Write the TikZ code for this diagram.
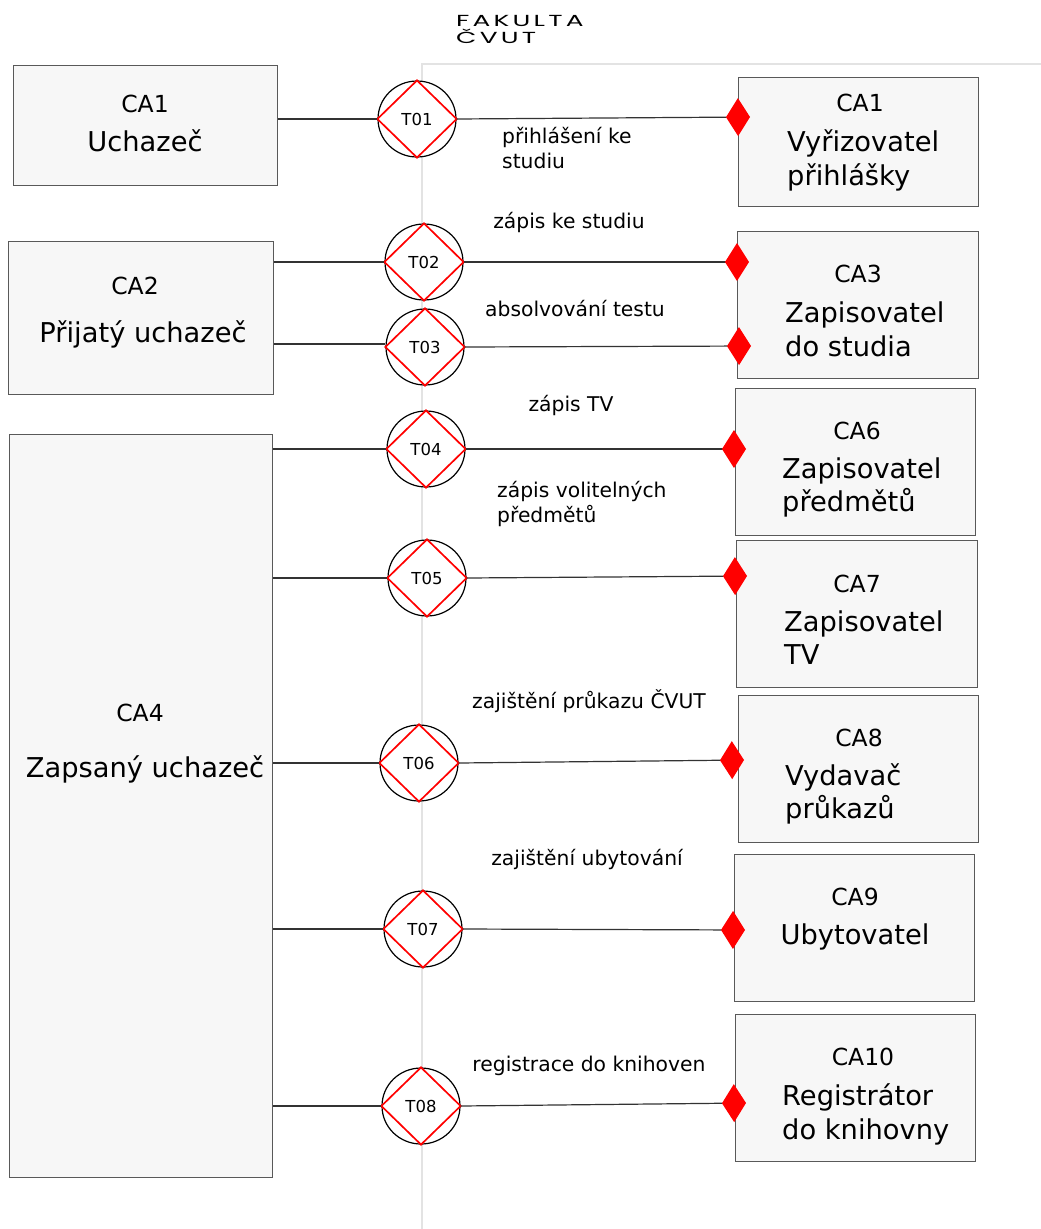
\documentclass[tikz,border=0pt]{standalone}
\usepackage{fontspec}
\setmainfont{DejaVu Sans}
\newfontfamily\titlefont[FakeStretch=1.65, LetterSpace=20]{Poppins}
\usetikzlibrary{shapes.geometric,arrows.meta,calc}

\begin{document}
\begin{tikzpicture}[x=1pt,y=-1pt,
  actor/.style={draw=black!65, fill=black!3, line width=1.3pt, inner sep=0pt, anchor=north west},
  trans/.style={ellipse, draw=black, fill=white, line width=1.2pt, minimum width=78pt,
                minimum height=76pt, inner sep=0pt, font=\fontsize{16.5}{18}\selectfont},
  txt/.style={inner sep=0pt, text height=0.73em, text depth=0pt, yshift=-5pt},
  code/.style={txt, font=\fontsize{23.5}{26}\selectfont},
  role/.style={txt, font=\fontsize{27.3}{32}\selectfont},
  label/.style={txt, font=\fontsize{20.3}{22}\selectfont},
  link/.style={draw=black!80, line width=1.2pt},
  rel/.style={link, -{Diamond[length=24pt,width=38pt,red]}},
  lane/.style={draw=black!11, line width=2.6pt},
  cross/.style={draw=red, line width=1.7pt, line join=miter}
]
\useasboundingbox (0,0) rectangle (1041,1229);

% organisation boundary
\draw[lane] (422,1229) -- (422,64) -- (1041,64);
\node[anchor=base west, align=left, inner sep=0pt,
      font=\titlefont\fontsize{16}{17}\selectfont] (fak) at (456,43) {FAKULTA\\ČVUT};

% environment actors
\node[actor, minimum width=264pt, minimum height=120pt] (a1) at (13,65) {};
\node[actor, minimum width=265pt, minimum height=153pt] (a2) at (8,241) {};
\node[actor, minimum width=263pt, minimum height=743pt] (a4) at (9,434) {};

\node[code] at (145,104) {CA1};
\node[role] at (145,143) {Uchazeč};
\node[code] at (135,286) {CA2};
\node[role] at (143,334) {Přijatý uchazeč};
\node[code] at (140,713) {CA4};
\node[role] at (145,769) {Zapsaný uchazeč};

% faculty actors
\node[actor, minimum width=240pt, minimum height=129pt] (r1) at (738,77) {};
\node[actor, minimum width=241pt, minimum height=147pt] (r3) at (737,231) {};
\node[actor, minimum width=240pt, minimum height=147pt] (r6) at (735,388) {};
\node[actor, minimum width=241pt, minimum height=147pt] (r7) at (736,540) {};
\node[actor, minimum width=240pt, minimum height=147pt] (r8) at (738,695) {};
\node[actor, minimum width=240pt, minimum height=147pt] (r9) at (734,854) {};
\node[actor, minimum width=240pt, minimum height=147pt] (r10) at (735,1014) {};

\node[code] at (860,103) {CA1};
\node[role, anchor=west] at (787,143) {Vyřizovatel};
\node[role, anchor=west] at (787,177) {přihlášky};
\node[code] at (858,274) {CA3};
\node[role, anchor=west] at (785,314) {Zapisovatel};
\node[role, anchor=west] at (785,348) {do studia};
\node[code] at (857,431) {CA6};
\node[role, anchor=west] at (782,470) {Zapisovatel};
\node[role, anchor=west] at (782,503) {předmětů};
\node[code] at (857,584) {CA7};
\node[role, anchor=west] at (784,623) {Zapisovatel};
\node[role, anchor=west] at (784,656) {TV};
\node[code] at (859,738) {CA8};
\node[role, anchor=west] at (785,777) {Vydavač};
\node[role, anchor=west] at (785,810) {průkazů};
\node[code] at (855,897) {CA9};
\node[role] at (855,936) {Ubytovatel};
\node[code] at (863,1057) {CA10};
\node[role, anchor=west] at (782,1097) {Registrátor};
\node[role, anchor=west] at (782,1131) {do knihovny};

% transactions
\foreach \n/\x/\y in {1/417/119, 2/424/262, 3/425/347, 4/426/449, 5/427/578, 6/419/763, 7/423/929, 8/421/1106}{
  \node[trans] (t\n) at (\x,\y) {T0\n};
  \draw[cross] (t\n.north) -- (t\n.east) -- (t\n.south) -- (t\n.west) -- cycle;
}

% initiator links
\draw[link] (a1.east |- t1.west) -- (t1.west);
\draw[link] (a2.east |- t2.west) -- (t2.west);
\draw[link] ($(a2.east |- t3.west)+(0,-3)$) -- ($(t3.west)+(0,-3)$);
\draw[link] (a4.east |- t4.west) -- (t4.west);
\draw[link] (a4.east |- t5.west) -- (t5.west);
\draw[link] (a4.east |- t6.west) -- (t6.west);
\draw[link] (a4.east |- t7.west) -- (t7.west);
\draw[link] (a4.east |- t8.west) -- (t8.west);

% executor links
\coordinate (e1) at ($(r1.west |- 0,117)+(12,0)$);
\coordinate (e2) at ($(r3.west |- 0,262)+(12,0)$);
\coordinate (e3) at ($(r3.west |- 0,346)+(14,0)$);
\coordinate (e4) at ($(r6.west |- 0,449)+(11,0)$);
\coordinate (e5) at ($(r7.west |- 0,576)+(11,0)$);
\coordinate (e6) at ($(r8.west |- 0,760)+(6,0)$);
\coordinate (e7) at ($(r9.west |- 0,930)+(11,0)$);
\coordinate (e8) at ($(r10.west |- 0,1103)+(11,0)$);
\foreach \n in {1,...,8}{
  \draw[rel] (t\n.east) -- (e\n);
}

% transaction labels
\node[label, anchor=west] at (502,135) {přihlášení ke};
\node[label, anchor=west] at (502,160) {studiu};
\node[label] at (569,220) {zápis ke studiu};
\node[label] at (575,308) {absolvování testu};
\node[label] at (571,403) {zápis TV};
\node[label, anchor=west] at (497,489) {zápis volitelných};
\node[label, anchor=west] at (497,514) {předmětů};
\node[label] at (589,700) {zajištění průkazu ČVUT};
\node[label] at (587,857) {zajištění ubytování};
\node[label] at (589,1063) {registrace do knihoven};
\end{tikzpicture}
\end{document}
